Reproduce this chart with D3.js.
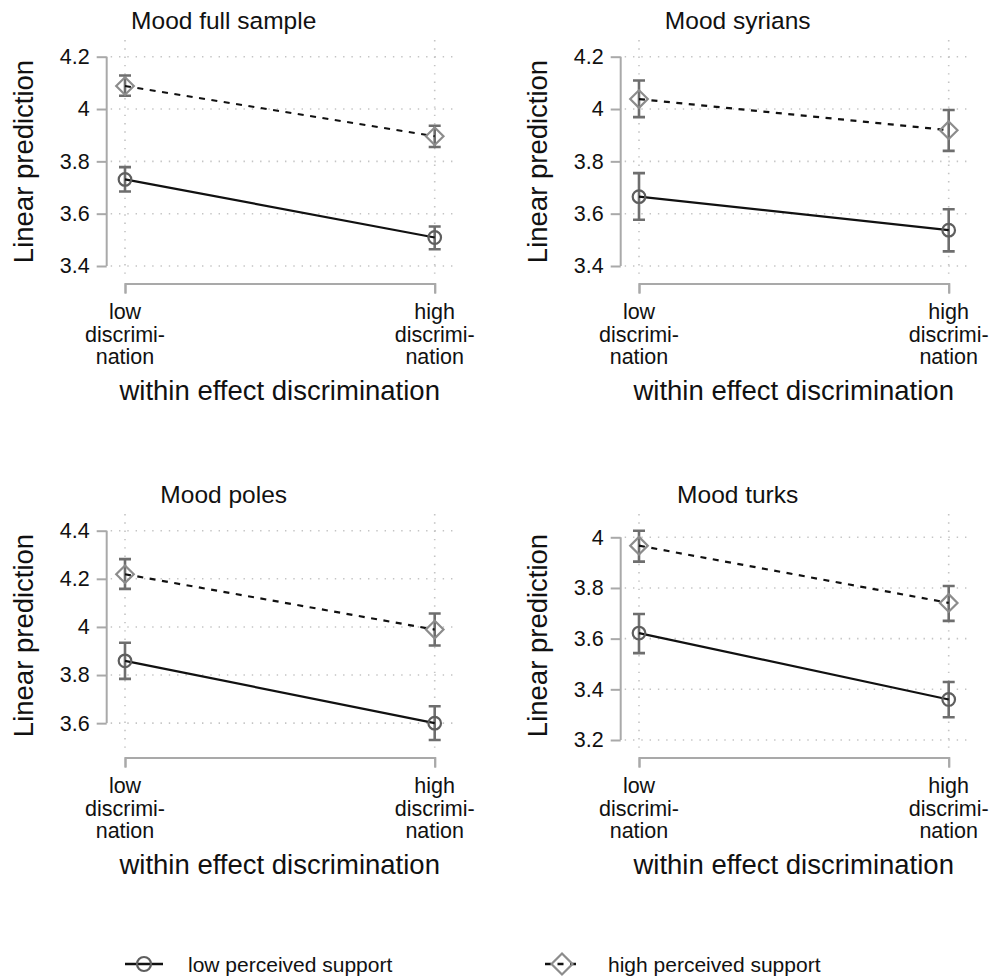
<!DOCTYPE html>
<html>
<head>
<meta charset="utf-8">
<script src="https://cdn.jsdelivr.net/npm/d3@7"></script>
<style>
    body { margin: 0; background: #fff; }
    text { font-family: "Liberation Sans", Arial, sans-serif; fill: #111; }
</style>
</head>
<body>
<script>
// values (margins plot, 4 panels)
var panelTitles = ["Mood full sample", "Mood syrians", "Mood poles", "Mood turks"];
var xLabels = [["low", "discrimi-", "nation"], ["high", "discrimi-", "nation"]];
var xTitle = "within effect discrimination";
var yTitle = "Linear prediction";
var seriesNames = ["low perceived support", "high perceived support"];

var yTicks = [
    [3.4, 3.6, 3.8, 4, 4.2],
    [3.4, 3.6, 3.8, 4, 4.2],
    [3.6, 3.8, 4, 4.2, 4.4],
    [3.2, 3.4, 3.6, 3.8, 4]
];

// low perceived support: estimate, lower and upper CI
var lowSupport = [[3.731, 3.509], [3.665, 3.537], [3.859, 3.600], [3.622, 3.360]];
var lowLo = [[3.685, 3.464], [3.577, 3.456], [3.784, 3.530], [3.543, 3.290]];
var lowHi = [[3.778, 3.551], [3.755, 3.617], [3.934, 3.670], [3.697, 3.429]];

// high perceived support
var highSupport = [[4.088, 3.896], [4.038, 3.919], [4.219, 3.989], [3.967, 3.741]];
var highLo = [[4.051, 3.855], [3.969, 3.840], [4.158, 3.923], [3.904, 3.670]];
var highHi = [[4.128, 3.936], [4.109, 3.996], [4.282, 4.056], [4.026, 3.808]];

var width = 994, height = 979;
var colX = [106.7, 620.7];
var rowTop = [40, 514];
var plotW = 346, plotH = 239;

var axisColor = "#a9a9a9";
var gridColor = "#c4c4c4";
var barColor = "#6e6e6e";
var circleColor = "#5e5e5e";
var diamondColor = "#8c8c8c";

var svg = d3.select("body").append("svg")
    .attr("width", width)
    .attr("height", height);

svg.append("rect").attr("width", width).attr("height", height).attr("fill", "#fff");

function diamondPath(cx, cy, r) {
    return "M" + cx + "," + (cy - r) + "L" + (cx + r) + "," + cy + "L" + cx + "," + (cy + r) + "L" + (cx - r) + "," + cy + "Z";
}

function drawPanel(i) {
    var axisX = colX[i % 2];
    var top = rowTop[Math.floor(i / 2)];
    var bottom = top + plotH;
    var right = axisX + plotW;
    var ticks = yTicks[i];

    var lo = Math.min(d3.min(ticks), d3.min(lowLo[i]), d3.min(highLo[i]));
    var hi = Math.max(d3.max(ticks), d3.max(lowHi[i]), d3.max(highHi[i]));

    var yScale = d3.scaleLinear()
        .domain([lo, hi])
        .range([bottom - 13, top + 16.7]);

    var xScale = d3.scalePoint()
        .domain([0, 1])
        .range([axisX + 18.3, right - 18]);

    var g = svg.append("g").attr("class", "panel");

    // dotted grid
    g.selectAll(".hgrid")
        .data(ticks)
        .enter().append("line")
        .attr("x1", axisX + 4).attr("x2", right)
        .attr("y1", function (d) { return yScale(d); })
        .attr("y2", function (d) { return yScale(d); })
        .attr("stroke", gridColor)
        .attr("stroke-width", 1.6)
        .attr("stroke-dasharray", "1.4,6.9");

    g.selectAll(".vgrid")
        .data([0, 1])
        .enter().append("line")
        .attr("x1", function (d) { return xScale(d); })
        .attr("x2", function (d) { return xScale(d); })
        .attr("y1", top).attr("y2", bottom)
        .attr("stroke", gridColor)
        .attr("stroke-width", 1.6)
        .attr("stroke-dasharray", "1.4,6.9");

    // y axis
    var yAxis = d3.axisLeft(yScale)
        .tickValues(ticks)
        .tickSize(10)
        .tickSizeOuter(0)
        .tickPadding(7)
        .tickFormat(d3.format(""));

    var yg = g.append("g")
        .attr("transform", "translate(" + axisX + ",0)")
        .call(yAxis);
    yg.select(".domain").remove();
    yg.selectAll(".tick line").attr("stroke", axisColor).attr("stroke-width", 2);
    yg.selectAll(".tick text")
        .attr("font-size", 21.5)
        .attr("font-family", "Liberation Sans, Arial, sans-serif")
        .attr("fill", "#111");
    yg.append("line")
        .attr("x1", 0).attr("x2", 0)
        .attr("y1", yScale(d3.min(ticks)))
        .attr("y2", yScale(d3.max(ticks)))
        .attr("stroke", axisColor)
        .attr("stroke-width", 2);

    // x axis
    var xAxis = d3.axisBottom(xScale)
        .tickSize(10)
        .tickFormat("");

    var xg = g.append("g")
        .attr("transform", "translate(0," + (bottom + 4.5) + ")")
        .call(xAxis);
    xg.select(".domain").attr("stroke", axisColor).attr("stroke-width", 2).attr("fill", "none");
    xg.selectAll(".tick line").attr("stroke", axisColor).attr("stroke-width", 2);

    xLabels.forEach(function (lines, j) {
        var t = g.append("text")
            .attr("text-anchor", "middle")
            .attr("font-size", 21.5)
            .attr("transform", "translate(" + xScale(j) + "," + (bottom + 40) + ")");
        lines.forEach(function (s, k) {
            t.append("tspan").attr("x", 0).attr("y", k * 22.7).text(s);
        });
    });

    g.append("text")
        .attr("x", (axisX + right) / 2)
        .attr("y", bottom + 121)
        .attr("text-anchor", "middle")
        .attr("font-size", 27.5)
        .text(xTitle);

    g.append("text")
        .attr("transform", "translate(" + (axisX - 73.7) + "," + ((top + bottom) / 2 + 2) + ") rotate(-90)")
        .attr("text-anchor", "middle")
        .attr("font-size", 27.5)
        .text(yTitle);

    g.append("text")
        .attr("x", axisX + 117)
        .attr("y", top - 11)
        .attr("text-anchor", "middle")
        .attr("font-size", 24.5)
        .text(panelTitles[i]);

    // confidence intervals
    var bars = [
        {est: lowSupport[i], lo: lowLo[i], hi: lowHi[i]},
        {est: highSupport[i], lo: highLo[i], hi: highHi[i]}
    ];
    bars.forEach(function (s) {
        [0, 1].forEach(function (j) {
            var x = xScale(j);
            var path = d3.path();
            path.moveTo(x, yScale(s.lo[j]));
            path.lineTo(x, yScale(s.hi[j]));
            path.moveTo(x - 6, yScale(s.lo[j]));
            path.lineTo(x + 6, yScale(s.lo[j]));
            path.moveTo(x - 6, yScale(s.hi[j]));
            path.lineTo(x + 6, yScale(s.hi[j]));
            g.append("path")
                .attr("d", path.toString())
                .attr("stroke", barColor)
                .attr("stroke-width", 2.6)
                .attr("fill", "none");
        });
    });

    var line = d3.line()
        .x(function (d, j) { return xScale(j); })
        .y(function (d) { return yScale(d); });

    g.append("path")
        .attr("d", line(lowSupport[i]))
        .attr("stroke", "#111")
        .attr("stroke-width", 2.2)
        .attr("fill", "none");

    g.append("path")
        .attr("d", line(highSupport[i]))
        .attr("stroke", "#111")
        .attr("stroke-width", 2.2)
        .attr("stroke-dasharray", "6,6.5")
        .attr("fill", "none");

    g.selectAll(".circ")
        .data(lowSupport[i])
        .enter().append("circle")
        .attr("cx", function (d, j) { return xScale(j); })
        .attr("cy", function (d) { return yScale(d); })
        .attr("r", 6.3)
        .attr("fill", "none")
        .attr("stroke", circleColor)
        .attr("stroke-width", 2.2);

    g.selectAll(".diam")
        .data(highSupport[i])
        .enter().append("path")
        .attr("d", function (d, j) { return diamondPath(xScale(j), yScale(d), 8.8); })
        .attr("fill", "none")
        .attr("stroke", diamondColor)
        .attr("stroke-width", 2.2);
}

for (var i = 0; i < 4; i++) drawPanel(i);

// legend
var legendY = 964;
var legend = svg.append("g").attr("class", "legend");

legend.append("line")
    .attr("x1", 125).attr("x2", 163)
    .attr("y1", legendY).attr("y2", legendY)
    .attr("stroke", "#111").attr("stroke-width", 2.5);
legend.append("circle")
    .attr("cx", 144).attr("cy", legendY).attr("r", 7)
    .attr("fill", "none").attr("stroke", circleColor).attr("stroke-width", 2.2);
legend.append("text")
    .attr("x", 188).attr("y", legendY + 7.5)
    .attr("font-size", 21)
    .text(seriesNames[0]);

legend.append("line")
    .attr("x1", 545).attr("x2", 576)
    .attr("y1", legendY).attr("y2", legendY)
    .attr("stroke", "#111").attr("stroke-width", 2.5)
    .attr("stroke-dasharray", "6,6.5");
legend.append("path")
    .attr("d", diamondPath(562, legendY, 10.5))
    .attr("fill", "none").attr("stroke", diamondColor).attr("stroke-width", 2.2);
legend.append("text")
    .attr("x", 608).attr("y", legendY + 7.5)
    .attr("font-size", 21)
    .text(seriesNames[1]);
</script>
</body>
</html>
